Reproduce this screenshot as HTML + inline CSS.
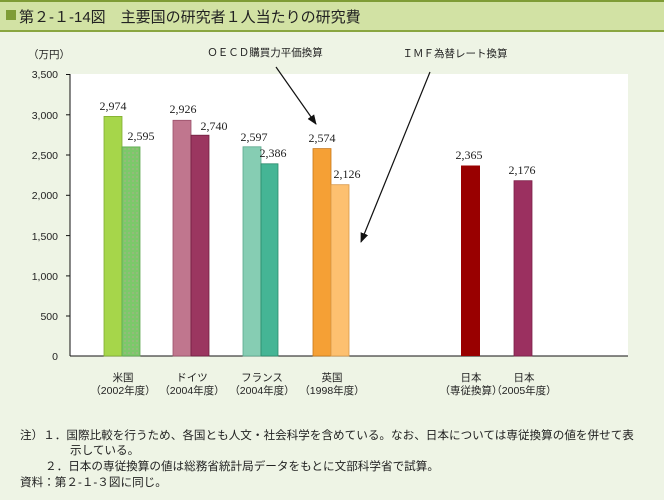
<!DOCTYPE html>
<html><head><meta charset="utf-8"><style>
body{margin:0;width:664px;height:500px;background:#eef4e5;font-family:"Liberation Sans","Noto Sans CJK JP",sans-serif;overflow:hidden}
</style></head><body>
<svg width="664" height="500" xmlns="http://www.w3.org/2000/svg" style="position:absolute;left:0;top:0">
<defs>
<pattern id="dot" width="4" height="4" patternUnits="userSpaceOnUse"><rect width="4" height="4" fill="#7cc86a"/><circle cx="1" cy="1" r="0.6" fill="#c9a0a0"/></pattern>
<marker id="ah" markerWidth="10" markerHeight="10" refX="9" refY="5" orient="auto" markerUnits="userSpaceOnUse"><path d="M0,1 L10,5 L0,9 Z" fill="#111"/></marker>
</defs>
<rect x="0" y="0" width="664" height="31" fill="#d2e2a4"/>
<rect x="0" y="0" width="664" height="2" fill="#7f9c36"/>
<rect x="0" y="30" width="664" height="2" fill="#8aa640"/>
<rect x="6" y="10" width="10" height="10" fill="#7f9c36"/>
<text x="19" y="22" font-size="15" fill="#222">第２-１-14図　主要国の研究者１人当たりの研究費</text>
<rect x="70" y="74" width="558" height="282" fill="#fff"/>
<g font-size="10.5" fill="#222" text-anchor="end" font-family="Liberation Sans,sans-serif">
<text x="58" y="78">3,500</text><text x="58" y="119">3,000</text><text x="58" y="159">2,500</text><text x="58" y="199">2,000</text><text x="58" y="240">1,500</text><text x="58" y="280">1,000</text><text x="58" y="320">500</text><text x="58" y="360">0</text>
</g>
<text x="28" y="58" font-size="10.5" fill="#222">（万円）</text>
<g stroke="#111" stroke-width="1">
<line x1="70" y1="74" x2="70" y2="356"/><line x1="70" y1="356" x2="628" y2="356"/>
<line x1="66" y1="74.5" x2="70" y2="74.5"/><line x1="66" y1="114.8" x2="70" y2="114.8"/><line x1="66" y1="155" x2="70" y2="155"/><line x1="66" y1="195.3" x2="70" y2="195.3"/><line x1="66" y1="235.6" x2="70" y2="235.6"/><line x1="66" y1="275.9" x2="70" y2="275.9"/><line x1="66" y1="316" x2="70" y2="316"/>
</g>
<g stroke-width="0.8">
<rect x="104" y="116.4" width="18" height="239.6" fill="#a6d64a" stroke="#80ac30"/>
<rect x="122" y="146.9" width="18" height="209.1" fill="url(#dot)" stroke="#60a850"/>
<rect x="173" y="120.3" width="18" height="235.7" fill="#c0768e" stroke="#9a506a"/>
<rect x="191" y="135.2" width="18" height="220.8" fill="#9b3660" stroke="#702040"/>
<rect x="243" y="146.8" width="18" height="209.2" fill="#86cdb3" stroke="#5aa88c"/>
<rect x="261" y="163.8" width="17" height="192.2" fill="#45b595" stroke="#2a8a6a"/>
<rect x="313" y="148.6" width="18" height="207.4" fill="#f5a035" stroke="#c87818"/>
<rect x="331" y="184.7" width="18" height="171.3" fill="#fdc070" stroke="#d89848"/>
<rect x="461" y="165.5" width="19" height="190.5" fill="#990000"/>
<rect x="514" y="180.7" width="18" height="175.3" fill="#9b3060" stroke="#7a2048"/>
</g>
<g font-size="12" fill="#222" font-family="Liberation Serif,serif" text-anchor="middle">
<text x="113" y="110">2,974</text><text x="141" y="140">2,595</text>
<text x="183" y="113">2,926</text><text x="214" y="130">2,740</text>
<text x="254" y="141">2,597</text><text x="273" y="157">2,386</text>
<text x="322" y="142">2,574</text><text x="347" y="178">2,126</text>
<text x="469" y="159">2,365</text><text x="522" y="174">2,176</text>
</g>
<g font-size="10.5" fill="#222" text-anchor="middle">
<text x="123" y="381">米国</text><text x="123" y="394">（2002年度）</text>
<text x="192" y="381">ドイツ</text><text x="192" y="394">（2004年度）</text>
<text x="262" y="381">フランス</text><text x="262" y="394">（2004年度）</text>
<text x="332" y="381">英国</text><text x="332" y="394">（1998年度）</text>
<text x="471" y="381">日本</text><text x="471" y="394">（専従換算）</text>
<text x="524" y="381">日本</text><text x="524" y="394">（2005年度）</text>
</g>
<text x="265" y="56" font-size="10.5" fill="#222" text-anchor="middle">ＯＥＣＤ購買力平価換算</text>
<text x="455" y="57" font-size="10.5" fill="#222" text-anchor="middle">ＩＭＦ為替レート換算</text>
<line x1="276" y1="67" x2="316" y2="124" stroke="#111" stroke-width="1.2" marker-end="url(#ah)"/>
<line x1="430" y1="72" x2="361" y2="242" stroke="#111" stroke-width="1.2" marker-end="url(#ah)"/>
<g font-size="11.6" fill="#222">
<text x="20" y="439">注）１．国際比較を行うため、各国とも人文・社会科学を含めている。なお、日本については専従換算の値を併せて表</text>
<text x="70" y="454">示している。</text>
<text x="45" y="470">２．日本の専従換算の値は総務省統計局データをもとに文部科学省で試算。</text>
<text x="20" y="486">資料：第２-１-３図に同じ。</text>
</g>
</svg>
</body></html>
